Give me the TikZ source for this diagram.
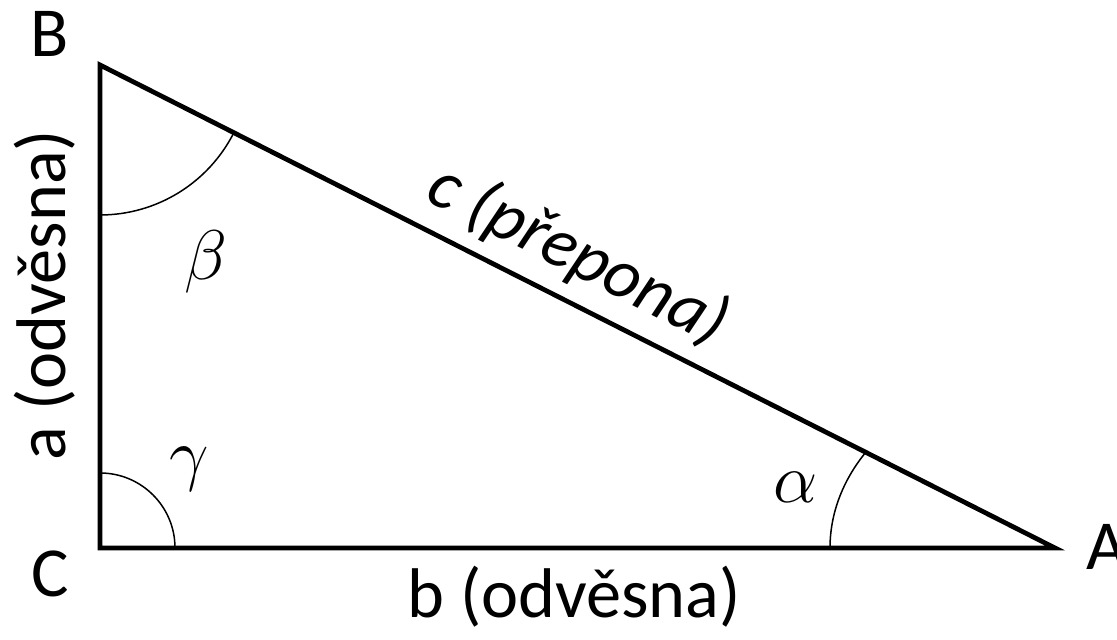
\RequirePackage{fix-cm}
\documentclass[tikz,border=0pt]{standalone}
\usepackage{fontspec}
\setmainfont{Carlito}
\usetikzlibrary{positioning}

\begin{document}
\begin{tikzpicture}[
    font=\fontsize{40}{48}\selectfont,
    side/.style={draw=black, line width=0.095cm, line join=miter},
    angarc/.style={draw=black, line width=0.03cm},
    vlab/.style={inner sep=0pt},
    greek/.style={inner sep=0pt},
  ]
    \useasboundingbox (0,0) rectangle (22.34,12.8);
    % --- vertices ---------------------------------------------------------
    \coordinate (C) at (2.0, 1.84);
    \coordinate (B) at (2.0, 11.5);
    \coordinate (A) at (21.1, 1.84);
    % --- triangle ---------------------------------------------------------
    \draw[side] (B) -- (C) -- (A) -- cycle;
    % --- angle arcs -------------------------------------------------------
    \draw[angarc] (C) ++(0,1.5) arc[start angle=90, end angle=0, radius=1.5];
    \draw[angarc] (B) ++(0,-3) arc[start angle=270, end angle=333.17, radius=3];
    \draw[angarc] (A) ++(-4.5,0) arc[start angle=180, end angle=147.6,
                                     x radius=4.5, y radius=3.54];
    % --- vertex labels ----------------------------------------------------
    \node[vlab] (labB) at (1.0, 12.12) {B};
    \node[vlab] (labC) at (1.0, 1.32)  {C};
    \node[vlab, anchor=west] (labA) at (21.72, 1.86) {A};
    % --- side labels ------------------------------------------------------
    \node[vlab] (sb) at (11.48, 0.86) {b (odvěsna)};
    \node[vlab, rotate=90] (sa) at (0.9, 6.9) {a (odvěsna)};
    \node[vlab, rotate=-26.83] (sc) at (11.56, 7.7) {\itshape c (přepona)};
    % --- angle labels -----------------------------------------------------
    \node[greek] (beta)  at (4.12, 7.56)  {$\beta$};
    \node[greek] (gamma) at (3.78, 3.42)  {$\gamma$};
    \node[greek] (alpha) at (15.92, 3.06) {$\alpha$};
  \end{tikzpicture}
\end{document}
